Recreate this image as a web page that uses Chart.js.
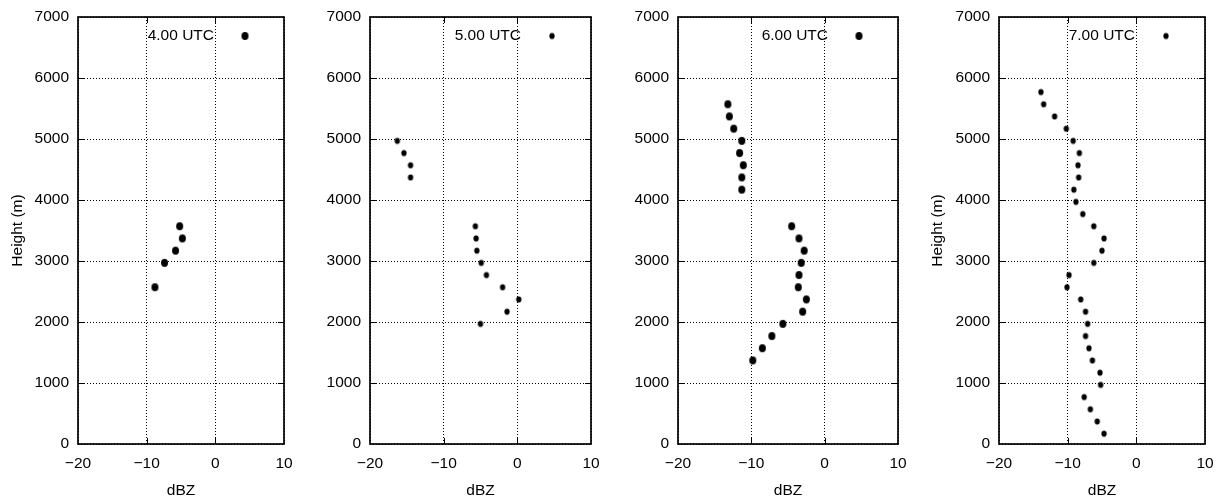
<!DOCTYPE html>
<html>
<head>
<meta charset="utf-8">
<script src="https://cdn.jsdelivr.net/npm/chart.js@4"></script>
<style>
    html, body { margin: 0; padding: 0; background: #fff; }
    #wrap { position: relative; width: 1216px; height: 499px; }
    #wrap canvas { position: absolute; top: 0; }
</style>
</head>
<body>
<div id="wrap">
    <canvas id="p0400" width="300" height="499" style="left:0px"></canvas>
    <canvas id="p0500" width="310" height="499" style="left:300px"></canvas>
    <canvas id="p0600" width="310" height="499" style="left:610px"></canvas>
    <canvas id="p0700" width="296" height="499" style="left:920px"></canvas>
</div>
<script>
// Reflectivity profiles (dBZ vs height) at four hourly times.
const xTicks = [-20, -10, 0, 10];
const yTicks = [0, 1000, 2000, 3000, 4000, 5000, 6000, 7000];

const dbz0400 = [-5.2, -4.8, -5.8, -7.4, -8.8];
const height0400 = [3570, 3370, 3170, 2970, 2570];

const dbz0500 = [-16.3, -15.4, -14.5, -14.5, -5.7, -5.6, -5.5, -4.9, -4.2, -2.0, 0.2, -1.4, -5.0];
const height0500 = [4970, 4770, 4570, 4370, 3570, 3370, 3170, 2970, 2770, 2570, 2370, 2170, 1970];

const dbz0600 = [-13.2, -13.0, -12.4, -11.3, -11.6, -11.1, -11.3, -11.3, -4.5, -3.5, -2.8, -3.2,
    -3.5, -3.6, -2.5, -3.0, -5.7, -7.2, -8.5, -9.8];
const height0600 = [5570, 5370, 5170, 4970, 4770, 4570, 4370, 4170, 3570, 3370, 3170, 2970,
    2770, 2570, 2370, 2170, 1970, 1770, 1570, 1370];

const dbz0700 = [-13.9, -13.5, -11.9, -10.2, -9.2, -8.3, -8.5, -8.4, -9.1, -8.8, -7.8, -6.2, -4.7, -5.0,
    -6.2, -9.8, -10.1, -8.1, -7.4, -7.1, -7.4, -6.9, -6.4, -5.3, -5.2, -7.6, -6.7, -5.7, -4.7];
const height0700 = [5770, 5570, 5370, 5170, 4970, 4770, 4570, 4370, 4170, 3970, 3770, 3570, 3370, 3170,
    2970, 2770, 2570, 2370, 2170, 1970, 1770, 1570, 1370, 1170, 970, 770, 570, 370, 170];

// Layout per panel: canvas left/width and where the plot frame should sit (page px).
const panels = [
    { id: 'p0400', label: '4.00 UTC', dbz: dbz0400, height: height0400, left: 0,   width: 300, plotLeft: 78,  plotRight: 284,  yTitle: true,  big: true },
    { id: 'p0500', label: '5.00 UTC', dbz: dbz0500, height: height0500, left: 300, width: 310, plotLeft: 370, plotRight: 591,  yTitle: false, big: false },
    { id: 'p0600', label: '6.00 UTC', dbz: dbz0600, height: height0600, left: 610, width: 310, plotLeft: 678, plotRight: 898,  yTitle: false, big: true },
    { id: 'p0700', label: '7.00 UTC', dbz: dbz0700, height: height0700, left: 920, width: 296, plotLeft: 999, plotRight: 1205, yTitle: true,  big: false },
];

const FONT = '"Liberation Sans", Arial, Helvetica, sans-serif';
const FONT_SIZE = 15.5;
Chart.defaults.font.family = FONT;
Chart.defaults.font.size = FONT_SIZE;
Chart.defaults.color = '#000';

// gnuplot-ish filled dots are slightly taller than wide in the reference
function dotImage(w, h) {
    const c = document.createElement('canvas');
    c.width = Math.ceil(w) + 2;
    c.height = Math.ceil(h) + 2;
    const g = c.getContext('2d');
    g.fillStyle = '#000';
    g.beginPath();
    g.ellipse(c.width / 2, c.height / 2, w / 2, h / 2, 0, 0, Math.PI * 2);
    g.fill();
    return c;
}
const bigDot = dotImage(7, 7.8);
const smallDot = dotImage(5.3, 6.2);

const minus = v => String(v).replace('-', '\u2212');

// Frame with inward tick marks, drawn under the points.
const framePlugin = {
    id: 'frame',
    beforeDatasetsDraw(chart) {
        const { ctx, chartArea: a, scales: { x, y } } = chart;
        ctx.save();
        ctx.strokeStyle = '#000';
        ctx.lineWidth = 1;
        ctx.setLineDash([]);
        ctx.beginPath();
        x.ticks.forEach(t => {
            if (t.value === x.min || t.value === x.max) return;
            const px = Math.round(x.getPixelForValue(t.value)) + 0.5;
            ctx.moveTo(px, a.bottom); ctx.lineTo(px, a.bottom - 6);
            ctx.moveTo(px, a.top); ctx.lineTo(px, a.top + 6);
        });
        y.ticks.forEach(t => {
            if (t.value === y.min || t.value === y.max) return;
            const py = Math.round(y.getPixelForValue(t.value)) + 0.5;
            ctx.moveTo(a.left, py); ctx.lineTo(a.left + 6, py);
            ctx.moveTo(a.right, py); ctx.lineTo(a.right - 6, py);
        });
        ctx.stroke();
        ctx.lineWidth = 1.7;
        ctx.strokeRect(a.left, a.top, a.right - a.left, a.bottom - a.top);
        ctx.restore();
    }
};

// Key in the top-right corner: text first, sample dot after it.
const keyPlugin = {
    id: 'key',
    afterDatasetsDraw(chart) {
        const { ctx, chartArea: a } = chart;
        const ds = chart.data.datasets[0];
        const yMid = a.top + 19;
        ctx.save();
        ctx.font = FONT_SIZE + 'px ' + FONT;
        ctx.fillStyle = '#000';
        ctx.textAlign = 'right';
        ctx.textBaseline = 'middle';
        ctx.fillText(ds.label, a.right - 70, yMid);
        const img = ds.pointStyle;
        ctx.drawImage(img, a.right - 39 - img.width / 2, yMid - img.height / 2);
        ctx.restore();
    }
};

panels.forEach(p => {
    const el = document.getElementById(p.id);
    new Chart(el.getContext('2d'), {
        type: 'scatter',
        data: {
            datasets: [{
                label: p.label,
                data: p.dbz.map((v, i) => ({ x: v, y: p.height[i] })),
                pointStyle: p.big ? bigDot : smallDot,
                pointRadius: 4,
                pointHoverRadius: 4,
                backgroundColor: '#000',
                borderColor: '#000',
            }]
        },
        options: {
            responsive: false,
            animation: false,
            events: [],
            layout: { padding: { top: 17, right: p.left + p.width - p.plotRight, bottom: 0, left: 0 } },
            plugins: { legend: { display: false }, tooltip: { enabled: false } },
            scales: {
                x: {
                    type: 'linear', min: -20, max: 10,
                    afterBuildTicks: s => { s.ticks = xTicks.map(v => ({ value: v })); },
                    // fixed height; label overhang is covered by the layout padding
                    afterFit: s => { s.height = 55; s.paddingLeft = 0; s.paddingRight = 0; },
                    ticks: { padding: 10.5, maxRotation: 0, callback: minus },
                    grid: { color: '#000', lineWidth: 1, drawTicks: false },
                    border: { display: false, dash: [1, 2] },
                    title: { display: true, text: 'dBZ', padding: { top: 0, bottom: -1 } }
                },
                y: {
                    type: 'linear', min: 0, max: 7000,
                    afterBuildTicks: s => { s.ticks = yTicks.map(v => ({ value: v })); },
                    afterFit: s => { s.width = p.plotLeft - p.left; s.paddingTop = 0; s.paddingBottom = 0; },
                    ticks: { padding: 9, callback: v => String(v) },
                    grid: { color: '#000', lineWidth: 1, drawTicks: false },
                    border: { display: false, dash: [1, 2] },
                    title: { display: p.yTitle, text: 'Height (m)', padding: { top: 8, bottom: 0 } }
                }
            }
        },
        plugins: [framePlugin, keyPlugin]
    });
});
</script>
</body>
</html>
